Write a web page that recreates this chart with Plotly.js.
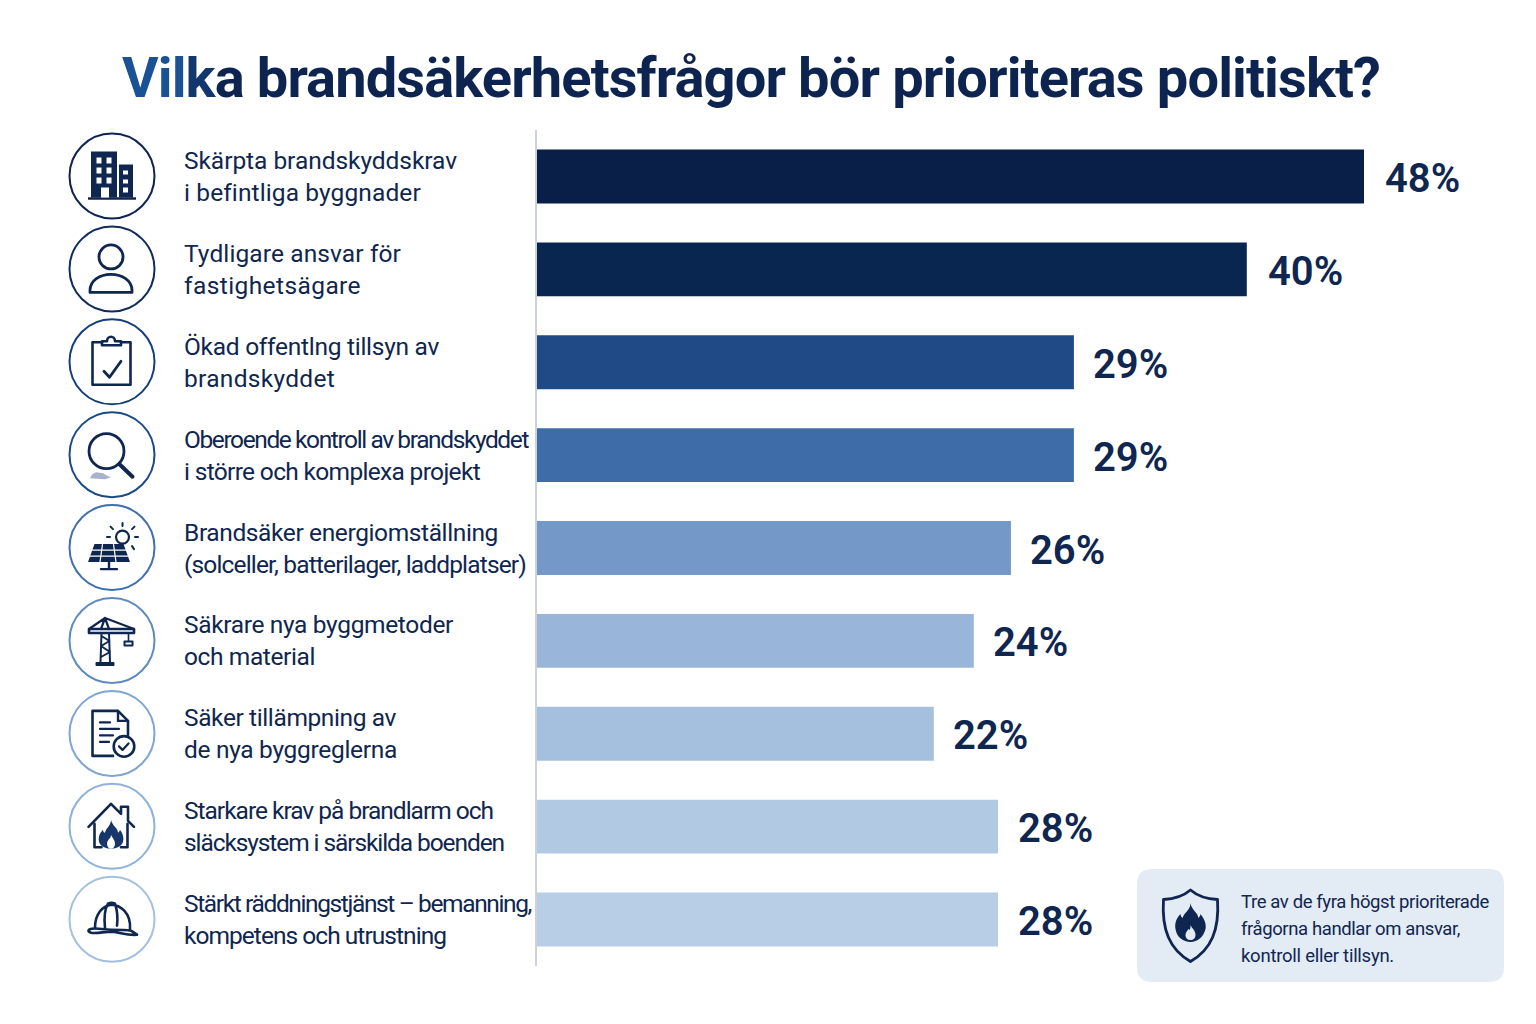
<!DOCTYPE html>
<html><head><meta charset="utf-8">
<script src="https://cdn.plot.ly/plotly-3.0.1.min.js"></script>
<style>html,body{margin:0;padding:0;background:#fff}#c{width:1536px;height:1024px}</style></head>
<body><div id="c"></div>
<script>
const titleParts = [['Vil','#1b5296'],['k','#12366d'],['a brandsäkerhetsfrågor bör prioriteras politiskt?','#0d2450']];
const categories = [
  'Skärpta brandskyddskrav<br>i befintliga byggnader',
  'Tydligare ansvar för<br>fastighetsägare',
  'Ökad offentlng tillsyn av<br>brandskyddet',
  'Oberoende kontroll av brandskyddet<br>i större och komplexa projekt',
  'Brandsäker energiomställning<br>(solceller, batterilager, laddplatser)',
  'Säkrare nya byggmetoder<br>och material',
  'Säker tillämpning av<br>de nya byggreglerna',
  'Starkare krav på brandlarm och<br>släcksystem i särskilda boenden',
  'Stärkt räddningstjänst – bemanning,<br>kompetens och utrustning'
];
const valueLabels = ['48%','40%','29%','29%','26%','24%','22%','28%','28%'];
// bar lengths as drawn in the picture (the picture's bars are not proportional to their printed labels)
const barLengths = [45.44, 39.0, 29.5, 29.5, 26.04, 24.0, 21.8, 25.33, 25.33];
const barColors = ['#0a1f47','#08264f','#1f4a85','#3e6ca8','#7499c8','#99b6da','#a5bfdf','#b2c9e4','#b8cde6'];
const ringColors = ['#0d2450','#0f2c5e','#153f7a','#1c4a85','#3f70ad','#5f8cc0','#7fa5d2','#8fb2da','#a3c0e2'];
const calloutLines = ['Tre av de fyra högst prioriterade','frågorna handlar om ansvar,','kontroll eller tillsyn.'];
// rendered widths of the text lines in the picture, used to set letter spacing
const lineWidths = [[273,236],[217,177],[255,151],[344,296],[314,342],[269,131],[212,213],[309,320],[347,262]];
const calloutWidths = [248,219,153];

const W=1536,H=1024,L=537,R=36,T=130,B=58;
const PW=W-L-R, PH=H-T-B;
const px=x=>(x-L)/PW, py=y=>1-(y-T)/PH;
const navy='#0f2650', FONT='Roboto, sans-serif';

const ctx=document.createElement('canvas').getContext('2d');
const spacing=(txt,size,weight,target)=>{ctx.font=`${weight} ${size}px Roboto`;return (target-ctx.measureText(txt).width)/txt.length;};
const fit=(txt,size,weight,target)=>`<span style="letter-spacing:${spacing(txt,size,weight,target).toFixed(3)}px">${txt}</span>`;

const S='fill="none" stroke="#0f2650" stroke-linecap="round" stroke-linejoin="round"';
const icons = [
 `<path d="M22 18h26v46H22zM50 31h14v33H50z" fill="#0f2650"/><path d="M19 65h48" stroke="#0f2650" stroke-width="2.4"/>
  <g fill="#fff"><path d="M27.5 24h5v6h-5zM37.5 24h5v6h-5zM27.5 34h5v6h-5zM37.5 34h5v6h-5zM27.5 44h5v6h-5zM37.5 44h5v6h-5zM32 54h8v10h-8zM54 37h5v4h-5zM54 46h5v4h-5zM54 54h5v5h-5z"/></g>`,
 `<circle cx="42" cy="30.5" r="12" ${S} stroke-width="2.8"/><path d="M21 66v-2c0-10 10-16 21-16s21 6 21 16v2z" ${S} stroke-width="2.8"/>`,
 `<path d="M33 23h-9.500v42.500h38V23H52" ${S} stroke-width="2.600"/><path d="M33 26v-4h5c0-6 8-6 8 0h6v4z" ${S} stroke-width="2.600"/><path d="M35 52l5.500 6L52 42" ${S} stroke-width="2.800"/>`,
 `<circle cx="37.5" cy="39" r="17.5" ${S} stroke-width="2.8"/><path d="M50.5 52L63.5 64.5" ${S} stroke-width="4"/><path d="M21 66c1-3 3-5 6-6l7 1c3 2 5 3 8 4l-6 2z" fill="#8a9ab8" opacity=".75"/>`,
 `<circle cx="53.5" cy="32" r="6.5" ${S} stroke-width="2.2"/><path d="M53.5 21v-3M44 24l-2.500-2.500M63 24l2.500-2.500M41 32h-3M66 32h3M63 41l2 3" ${S} stroke-width="2"/>
  <path d="M25.5 39h29l6.5 18H19z" fill="#0f2650"/><path d="M23 45h34M21 51h38M33.5 39l-2.5 18M44.5 39l2.500 18" stroke="#fff" stroke-width="1.2"/><path d="M40 57v6M32 64h16" ${S} stroke-width="2.4"/>`,
 `<path d="M32.500 35L31.500 64M40 35l1 29M32.500 38l8 5-8.500 5 9 6-9 5" ${S} stroke-width="2"/><path d="M20 31h45v4H20z" ${S} stroke-width="2.600"/><path d="M36 20L20 31M36 20L65 31M32 31l4-11 4 11" ${S} stroke-width="2.200"/><path d="M27 64.500h18v3H27z" fill="#0f2650" stroke="#0f2650"/><path d="M59.500 35v8" ${S} stroke-width="1.600"/><path d="M55.500 43.500h8v4h-8z" ${S} stroke-width="2"/>`,
 `<path d="M44 65H23.500V20H49l10 10v14" ${S} stroke-width="2.600"/><path d="M49 20v10h10" ${S} stroke-width="2.400"/><path d="M31 31.500h10M31 38h19M31 44.500h13M31 51h9" ${S} stroke-width="2.200"/><circle cx="55" cy="55.500" r="10.300" fill="#fff" stroke="#0f2650" stroke-width="2.600"/><path d="M50 55.500l3.500 3.500 6-6.500" ${S} stroke-width="2.200"/>`,
 `<path d="M19.500 43L42 20l10 10v-7h7v14l6 6" ${S} stroke-width="2.600"/><path d="M25.500 40v23.500h7M58.500 40v23.500H52" ${S} stroke-width="2.600"/>
  <path d="M42 36c1 6 7 8 7 13 1-1 2-2 2-3 3 4 4 8 3 12-1 4-6 7-12 7s-11-3-12-7c-1-5 1-9 4-12 0 2 1 3 2 3 1-5 6-7 6-13z" fill="#17366b"/><path d="M42 51c1 3 4 5 4 9 0 3-2 5-4 5s-4-2-4-5c0-3 2-4 2-5 1 0 2-2 2-4z" fill="#fff"/>`,
 `<path d="M26 51c0-14 8-22 16-23 9 0 20 8 19 24M36 51c-1-9 0-19 3-24 2-1 5-1 7 0 2 6 3 14 2 22" ${S} stroke-width="2.600"/><path d="M20 53c5-3 13 0 22 0 9 0 15 0 20 1l6 4c-9 1-16-2-25-3-8 0-15 2-21 1-3-1-3-2-2-3z" ${S} stroke-width="2.600"/>`
];
const svgURI=(inner,w,h)=>'data:image/svg+xml;charset=utf-8,'+encodeURIComponent(`<svg xmlns="http://www.w3.org/2000/svg" viewBox="0 0 ${w} ${h}" width="${w*4}" height="${h*4}">${inner}</svg>`);
const images = icons.map((ic,i)=>{
  const cy=176+92.9*i;
  return {source:svgURI(ic,86,86),xref:'paper',yref:'paper',x:px(69),y:py(cy-42.500),sizex:86/PW,sizey:86/PH,sizing:'stretch',xanchor:'left',yanchor:'top',layer:'above'};
});
const shield=`<path d="M30.500 2c7 6 16 9 27 9.500 2 30-6 50-27 62-21-12-29-32-27-62C14 11 23.500 8 30.500 2z" fill="none" stroke="#0f2650" stroke-width="2.800" stroke-linejoin="round"/>
<path d="M30.500 15c1 7 7 9 8 15 1-1 2-3 2-4 4 5 6 10 5 15-2 8-8 13-15 13s-14-5-15-13c-1-6 1-11 5-15 0 2 1 3 2 4 2-6 8-8 8-15z" fill="#0f2650"/><path d="M30.500 37c1 3 5 5 5 10 0 3-2 5-5 5s-5-2-5-5c0-3 2-4 3-6 1 1 1 1 1 1 1-1 1-3 1-5z" fill="#e3ebf5"/>`;
images.push({source:svgURI(shield,61,76),xref:'paper',yref:'paper',x:px(1160),y:py(888),sizex:61/PW,sizey:76/PH,sizing:'stretch',xanchor:'left',yanchor:'top',layer:'above'});

const rr=(x0,y0,x1,y1,r)=>{const X=px,Y=py;return `M${X(x0+r)},${Y(y0)} L${X(x1-r)},${Y(y0)} Q${X(x1)},${Y(y0)} ${X(x1)},${Y(y0+r)} L${X(x1)},${Y(y1-r)} Q${X(x1)},${Y(y1)} ${X(x1-r)},${Y(y1)} L${X(x0+r)},${Y(y1)} Q${X(x0)},${Y(y1)} ${X(x0)},${Y(y1-r)} L${X(x0)},${Y(y0+r)} Q${X(x0)},${Y(y0)} ${X(x0+r)},${Y(y0)} Z`;};
const shapes = ringColors.map((c,i)=>{
  const cy=176+92.9*i;
  return {type:'circle',xref:'paper',yref:'paper',x0:px(69.500),x1:px(154.500),y0:py(cy-42.500),y1:py(cy+42.500),line:{color:c,width:2},fillcolor:'rgba(255,255,255,0)',layer:'above'};
});
shapes.push({type:'path',xref:'paper',yref:'paper',path:rr(1137,869,1504,982,15),fillcolor:'#e3ebf5',line:{width:0},layer:'below'});

const annotations=[];
categories.forEach((cat,i)=>{
  cat.split('<br>').forEach((ln,k)=>{
    annotations.push({xref:'paper',yref:'y',x:px(182),y:cat,yshift:k===0?16:-16,xanchor:'left',yanchor:'middle',align:'left',showarrow:false,text:fit(ln,24.500,400,lineWidths[i][k]),font:{family:FONT,size:24.500,color:navy}});
  });
  annotations.push({xref:'x',yref:'y',x:barLengths[i],y:cat,xshift:i<2?19:17.500,yshift:-2,xanchor:'left',yanchor:'middle',showarrow:false,text:valueLabels[i],font:{family:FONT,size:40,weight:600,color:navy}});
});
calloutLines.forEach((ln,k)=>{
  annotations.push({xref:'paper',yref:'paper',x:px(1239),y:py(902+27*k),xanchor:'left',yanchor:'middle',align:'left',showarrow:false,text:fit(ln,18.500,400,calloutWidths[k]),font:{family:FONT,size:18.500,color:navy}});
});
const titleWhole=titleParts.map(p=>p[0]).join('');
const titleLS=spacing(titleWhole,56,700,1258).toFixed(3);
const titleText=titleParts.map(p=>`<span style="color:${p[1]};letter-spacing:${titleLS}px">${p[0]}</span>`).join('');
annotations.push({xref:'paper',yref:'paper',x:px(751),y:py(78),xanchor:'center',yanchor:'middle',showarrow:false,text:titleText,font:{family:FONT,size:56,weight:700,color:'#0d2450'}});

Plotly.newPlot('c',[{type:'bar',orientation:'h',x:barLengths,y:categories,width:0.58,marker:{color:barColors,line:{width:0}},hoverinfo:'skip'}],{
  width:W,height:H,margin:{l:L,r:R,t:T,b:B,pad:0},paper_bgcolor:'#fff',plot_bgcolor:'rgba(0,0,0,0)',showlegend:false,
  xaxis:{range:[0,PW/18.2],visible:false,fixedrange:true},
  yaxis:{type:'category',categoryorder:'array',categoryarray:categories,range:[8.5,-0.5],showticklabels:false,ticks:'',showgrid:false,zeroline:false,showline:true,linecolor:'#ccd1d9',linewidth:1.500,fixedrange:true},
  shapes,images,annotations
},{displayModeBar:false,responsive:false});
</script></body></html>
